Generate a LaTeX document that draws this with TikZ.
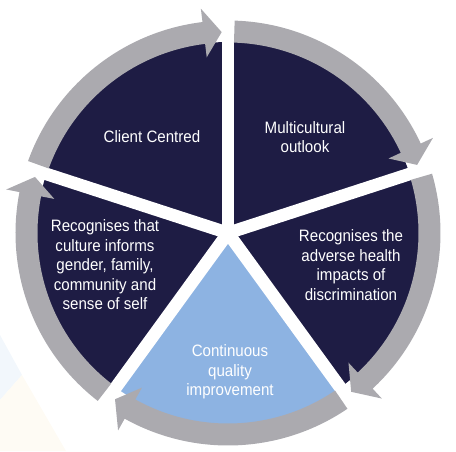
\documentclass[tikz,border=0pt]{standalone}
\usepackage{fontspec}
\setmainfont{Liberation Sans}[FakeStretch=0.915]
\usetikzlibrary{positioning}
\definecolor{navy}{RGB}{30,28,68}
\definecolor{sky}{RGB}{141,179,226}
\definecolor{ring}{RGB}{171,170,175}
\definecolor{paleblue}{RGB}{242,247,252}
\definecolor{paleyellow}{RGB}{254,251,244}

\begin{document}
\begin{tikzpicture}[x=1pt, y=1pt,
  segtext/.style={text=white, align=center, font=\fontsize{16.5}{19.5}\selectfont},
  gap/.style={draw=white, line width=12.6pt},
  cyclearrow/.style={fill=ring},
]
  \useasboundingbox (-228,-218) rectangle (228,233);
  % faint backdrop, lower left
  \fill[paleblue] (-228,-102) -- (-206,-142) -- (-228,-167) -- cycle;
  \fill[paleyellow] (-228,-167) -- (-206,-142) -- (-162,-218) -- (-228,-218) -- cycle;
  % sectors
  \foreach \a/\col in {90/navy, 18/navy, -54/sky, -126/navy, 162/navy}
    \fill[\col] (0,0) -- (\a:191) arc[start angle=\a, delta angle=-72, radius=191] -- cycle;
  % white gaps between sectors
  \foreach \a in {90,18,-54,-126,162}
    \draw[gap] (0,0) -- (\a:232);
  % clockwise arrows round the rim
  \foreach \a in {90,18,-54,-126,162} {
    \pgfmathsetmacro\tail{\a-1.8}
    \pgfmathsetmacro\tip{\a-72+1.8}
    \pgfmathsetmacro\back{\tip+5.1}
    \fill[cyclearrow] (\tail:190.5) arc[start angle=\tail, end angle=\back, radius=190.5]
      -- (\back:177) -- (\tip:201) -- (\back:226) -- (\back:212.5)
      arc[start angle=\back, end angle=\tail, radius=212.5] -- cycle;
  }
  \node[segtext] (client) at (-76,96) {Client Centred};
  \node[segtext] (outlook) at (77,96) {Multicultural\\outlook};
  \node[segtext] (health) at (123,-32) {Recognises the\\adverse health\\impacts of\\discrimination};
  \node[segtext] (culture) at (-123,-32) {Recognises that\\culture informs\\gender, family,\\community and\\sense of self};
  \node[segtext] (quality) at (2,-139) {Continuous\\quality\\improvement};
\end{tikzpicture}
\end{document}
